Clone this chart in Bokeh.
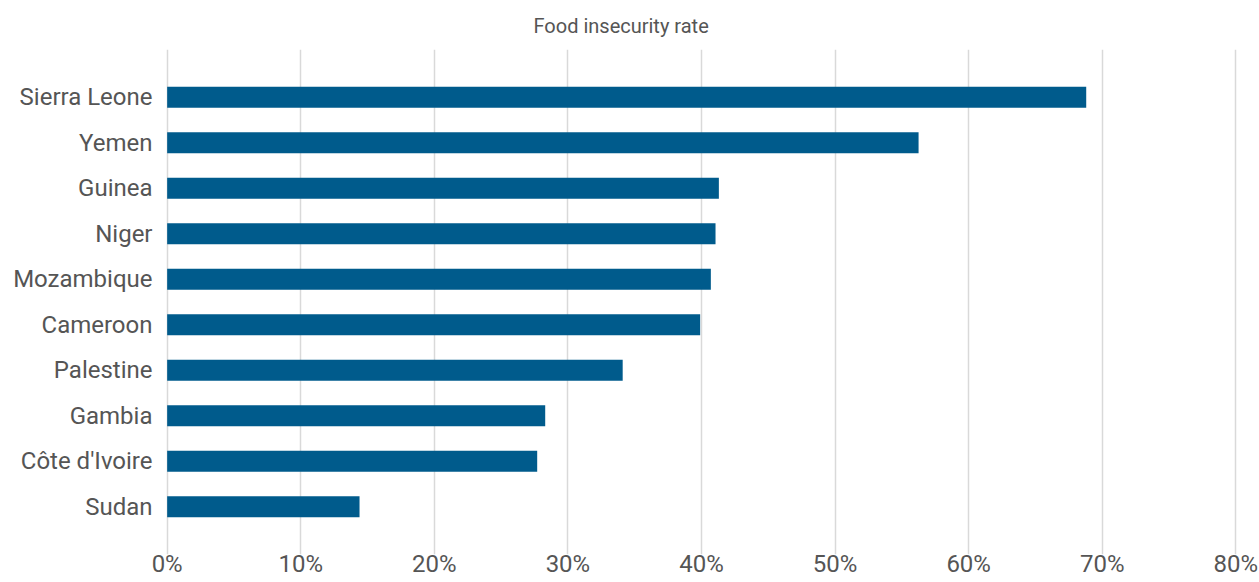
from bokeh.plotting import figure
from bokeh.models import FactorRange, Range1d, FixedTicker, Title, ColumnDataSource, CustomJSTickFormatter
from bokeh.embed import file_html
from bokeh.resources import INLINE

countries = ["Sierra Leone", "Yemen", "Guinea", "Niger", "Mozambique",
             "Cameroon", "Palestine", "Gambia", "Côte d'Ivoire", "Sudan"]
rates = [68.8, 56.25, 41.3, 41.05, 40.7, 39.9, 34.1, 28.3, 27.7, 14.4]
tick_values = [0, 10, 20, 30, 40, 50, 60, 70, 80]
title_text = "Food insecurity rate"

factors = list(reversed(countries))
src = ColumnDataSource(dict(country=countries, rate=rates))

p = figure(width=1259, height=582, output_backend="svg", toolbar_location=None,
           y_range=FactorRange(factors=factors, range_padding=0.55, range_padding_units="absolute"),
           x_range=Range1d(-0.2, 80.2),
           min_border_left=164, min_border_right=21, min_border_top=48, min_border_bottom=28)

p.hbar(y="country", right="rate", left=0, height=0.46, source=src,
       color="#005b8c", line_color=None)

p.outline_line_color = None
p.background_fill_color = "white"
p.border_fill_color = "white"

p.ygrid.grid_line_color = None
p.xgrid.grid_line_color = "#d9d9d9"
p.xgrid.grid_line_width = 1.5

xa = p.xaxis[0]
xa.ticker = FixedTicker(ticks=tick_values)
xa.formatter = CustomJSTickFormatter(code="return Math.round(tick) + '%';")
xa.axis_line_color = None
xa.major_tick_line_color = None
xa.minor_tick_line_color = None
xa.major_tick_out = 0
xa.major_tick_in = 0
xa.minor_tick_out = 0
xa.minor_tick_in = 0
xa.major_label_text_font = "Roboto"
xa.major_label_text_font_size = "24px"
xa.major_label_text_color = "#555555"
xa.major_label_standoff = -5

ya = p.yaxis[0]
ya.axis_line_color = None
ya.major_tick_line_color = None
ya.minor_tick_line_color = None
ya.major_tick_out = 0
ya.major_tick_in = 0
ya.minor_tick_out = 0
ya.minor_tick_in = 0
ya.major_label_text_font = "Roboto"
ya.major_label_text_font_size = "24px"
ya.major_label_text_color = "#555555"
ya.major_label_standoff = 12

t = Title(text=title_text, align="left", offset=369, text_font="Roboto",
          text_font_size="20px", text_font_style="normal", text_color="#555555",
          standoff=23)
p.add_layout(t, "above")

open("out.html", "w").write(file_html(p, INLINE))
